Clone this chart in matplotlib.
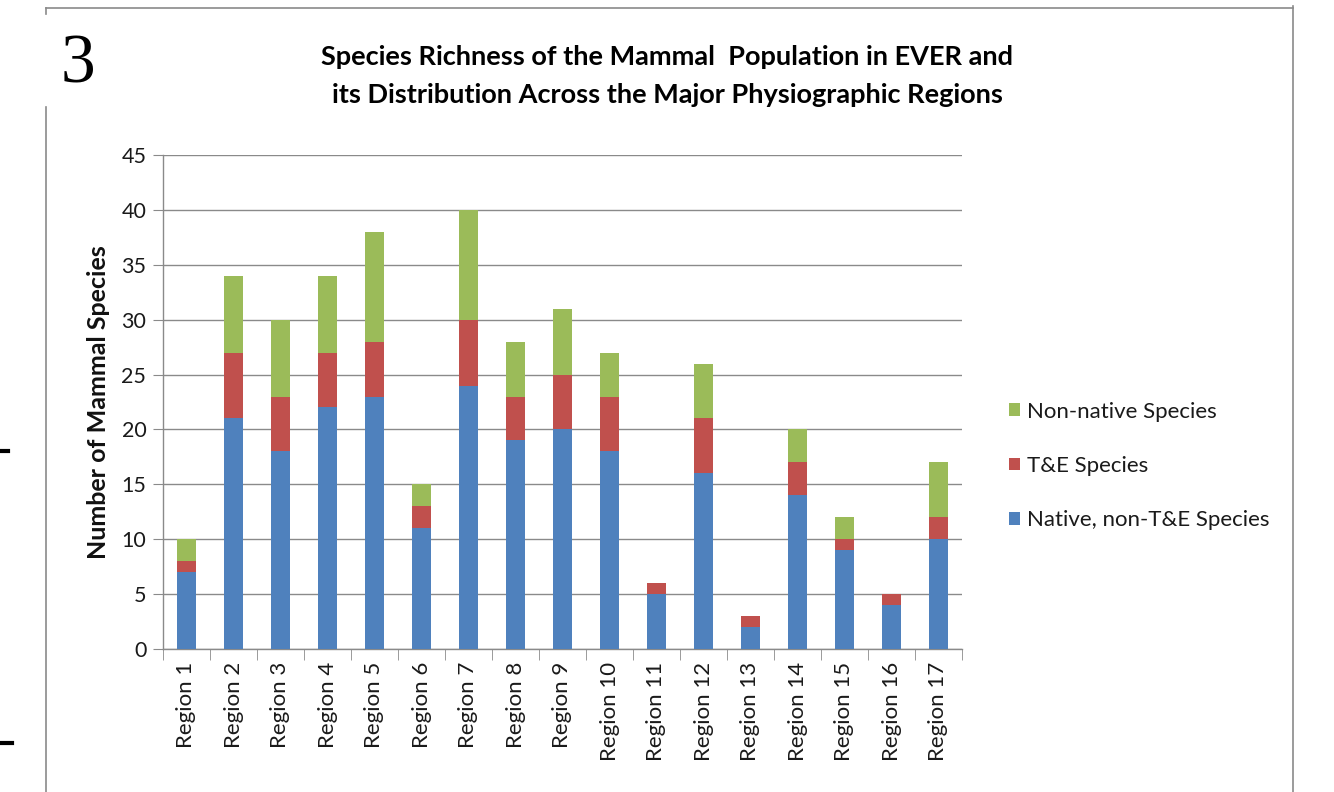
import matplotlib
matplotlib.use("Agg")
import matplotlib.pyplot as plt
from matplotlib.lines import Line2D
from matplotlib.patches import Patch
import numpy as np

regions = [f"Region {i}" for i in range(1, 18)]
native = [7, 21, 18, 22, 23, 11, 24, 19, 20, 18, 5, 16, 2, 14, 9, 4, 10]
threatened = [1, 6, 5, 5, 5, 2, 6, 4, 5, 5, 1, 5, 1, 3, 1, 1, 2]
nonnative = [2, 7, 7, 7, 10, 2, 10, 5, 6, 4, 0, 5, 0, 3, 2, 0, 5]
series_labels = ["Native, non-T&E Species", "T&E Species", "Non-native Species"]
colors = ["#4F81BD", "#C0504D", "#9BBB59"]
yticks = list(range(0, 50, 5))

FONT = ["Lato", "DejaVu Sans"]
W, H = 1334, 792
fig = plt.figure(figsize=(W / 100, H / 100), dpi=100)

ax = fig.add_axes([163 / W, 1 - 649 / H, (962 - 163) / W, (649 - 155) / H])
x = np.arange(len(regions))
n = np.array(native)
t = np.array(threatened)
g = np.array(nonnative)
ax.bar(x, n, width=0.42, color=colors[0], zorder=3)
ax.bar(x, t, width=0.42, bottom=n, color=colors[1], zorder=3)
ax.bar(x, g, width=0.42, bottom=n + t, color=colors[2], zorder=3)

ax.set_xlim(-0.5, len(regions) - 0.5)
ax.set_ylim(0, 45)
ax.set_yticks(yticks)
ax.set_yticklabels([str(v) for v in yticks], fontsize=15.5, family=FONT, color="#1a1a1a")
ax.yaxis.grid(True, color="#8a8a8a", linewidth=1.0, zorder=0)
ax.tick_params(axis="y", length=7, color="#8a8a8a", pad=5)

# category labels centred under bars, tick marks at category boundaries
ax.set_xticks(x)
ax.set_xticklabels(regions, rotation=90, fontsize=16, family=FONT, color="#1a1a1a")
ax.tick_params(axis="x", length=0, pad=9)
ax.set_xticks(np.arange(-0.5, len(regions), 1.0), minor=True)
ax.tick_params(axis="x", which="minor", length=8, color="#8a8a8a")

for side in ("top", "right"):
    ax.spines[side].set_visible(False)
for side in ("left", "bottom"):
    ax.spines[side].set_color("#8a8a8a")
    ax.spines[side].set_linewidth(1.0)

ax.set_ylabel("Number of Mammal Species", fontsize=18, fontweight="bold",
              family=FONT, labelpad=8, color="#111111")

handles = [Patch(facecolor=colors[2]), Patch(facecolor=colors[1]), Patch(facecolor=colors[0])]
leg = fig.legend(handles, [series_labels[2], series_labels[1], series_labels[0]],
                 loc="center left", bbox_to_anchor=(989 / W, 1 - 466 / H),
                 frameon=False, prop={"family": FONT, "size": 16},
                 handlelength=0.5, handleheight=0.5, handletextpad=0.3,
                 labelspacing=1.55)
for txt in leg.get_texts():
    txt.set_color("#1a1a1a")

fig.text(667 / W, 1 - 57 / H,
         "Species Richness of the Mammal  Population in EVER and",
         ha="center", va="center", fontsize=19.5, fontweight="bold", family=FONT)
fig.text(667 / W, 1 - 95 / H,
         "its Distribution Across the Major Physiographic Regions",
         ha="center", va="center", fontsize=19.5, fontweight="bold", family=FONT)

fig.text(78 / W, 1 - 66 / H, "3", ha="center", va="center", fontsize=50,
         family="Liberation Serif")

# panel frame
frame_color = "#8a8a8a"
fig.add_artist(Line2D([46 / W, 1293 / W], [1 - 8 / H, 1 - 8 / H], color=frame_color, lw=1.2))
fig.add_artist(Line2D([1293 / W, 1293 / W], [1 - 6 / H, 0], color=frame_color, lw=1.2))
fig.add_artist(Line2D([46 / W, 46 / W], [1 - 107 / H, 0], color=frame_color, lw=1.2))
fig.add_artist(Line2D([46 / W, 46 / W], [1 - 8 / H, 1 - 14 / H], color=frame_color, lw=1.2))
fig.add_artist(Line2D([0, 8 / W], [1 - 451 / H, 1 - 451 / H], color="black", lw=3))
fig.add_artist(Line2D([0, 12 / W], [1 - 743 / H, 1 - 743 / H], color="black", lw=3))

fig.savefig("out.png", dpi=100)
